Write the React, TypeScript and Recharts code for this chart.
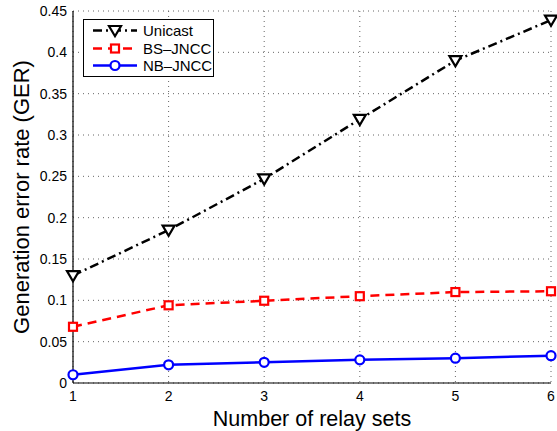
import React from "react";
import {
  LineChart,
  Line,
  XAxis,
  YAxis,
  CartesianGrid,
  Label,
} from "recharts";

/* ── Data ─────────────────────────────────────────────────── */
const relaySets = [1, 2, 3, 4, 5, 6];
const unicast = [0.13, 0.185, 0.247, 0.319, 0.39, 0.439];
const bsJncc = [0.068, 0.094, 0.0995, 0.105, 0.11, 0.111];
const nbJncc = [0.01, 0.022, 0.025, 0.028, 0.03, 0.033];
const yTicks = [0, 0.05, 0.1, 0.15, 0.2, 0.25, 0.3, 0.35, 0.4, 0.45];

const data = relaySets.map((n, i) => ({
  n,
  unicast: unicast[i],
  bs: bsJncc[i],
  nb: nbJncc[i],
}));

const FONT = "'Liberation Sans', Arial, Helvetica, sans-serif";

/* ── Markers ──────────────────────────────────────────────── */
// eslint-disable-next-line @typescript-eslint/no-explicit-any
function TriangleDot(props: any) {
  const { cx, cy } = props;
  if (cx == null || cy == null) return null;
  const s = 6;
  return (
    <path
      d={`M${cx - s},${cy - s * 0.75} L${cx + s},${cy - s * 0.75} L${cx},${cy + s * 0.95} Z`}
      fill="#fff"
      stroke="#000"
      strokeWidth={2.2}
    />
  );
}

// eslint-disable-next-line @typescript-eslint/no-explicit-any
function SquareDot(props: any) {
  const { cx, cy } = props;
  if (cx == null || cy == null) return null;
  return (
    <rect
      x={cx - 4}
      y={cy - 4}
      width={8}
      height={8}
      fill="#fff"
      stroke="#ff0000"
      strokeWidth={2.2}
    />
  );
}

// eslint-disable-next-line @typescript-eslint/no-explicit-any
function CircleDot(props: any) {
  const { cx, cy } = props;
  if (cx == null || cy == null) return null;
  return <circle cx={cx} cy={cy} r={4.5} fill="#fff" stroke="#0000ff" strokeWidth={2.2} />;
}

/* ── Legend box (overlay, MATLAB style) ───────────────────── */
const legendItems = [
  { name: "Unicast", color: "#000", dash: "9 4 2 4", Dot: TriangleDot },
  { name: "BS\u2013JNCC", color: "#ff0000", dash: "9 6", Dot: SquareDot },
  { name: "NB\u2013JNCC", color: "#0000ff", dash: undefined, Dot: CircleDot },
];

function LegendBox() {
  return (
    <div
      style={{
        position: "absolute",
        left: 83,
        top: 19,
        width: 131,
        height: 58,
        border: "1px solid #000",
        background: "#fff",
        boxSizing: "border-box",
        padding: "2px 0 0 0",
      }}
    >
      {legendItems.map(({ name, color, dash, Dot }) => (
        <div key={name} style={{ display: "flex", alignItems: "center", height: 17.5 }}>
          <svg width={56} height={17} style={{ flexShrink: 0 }}>
            <line
              x1={9}
              y1={8.5}
              x2={53}
              y2={8.5}
              stroke={color}
              strokeWidth={2.5}
              strokeDasharray={dash}
            />
            <Dot cx={31} cy={8.5} />
          </svg>
          <span
            style={{
              marginLeft: 3,
              color: "#000",
              fontFamily: FONT,
              fontSize: 15,
              lineHeight: "17px",
              whiteSpace: "nowrap",
            }}
          >
            {name}
          </span>
        </div>
      ))}
    </div>
  );
}

const fmt = (v: number) => String(+v.toFixed(2));

export default function App() {
  return (
    <div
      style={{
        position: "absolute",
        left: 0,
        top: 0,
        width: 557,
        height: 431,
        background: "#fff",
      }}
    >
      <LineChart
        width={557}
        height={431}
        data={data}
        margin={{ top: 11, right: 6, left: 23, bottom: 0 }}
      >
        <CartesianGrid stroke="#666" strokeDasharray="1 4" strokeWidth={1} />

        <XAxis
          dataKey="n"
          type="number"
          domain={[1, 6]}
          ticks={relaySets}
          height={48}
          stroke="#000"
          tickLine={false}
          tickSize={4}
          tickMargin={4}
          tick={{ fontSize: 14, fill: "#000", fontFamily: FONT }}
          axisLine={{ stroke: "#000", strokeWidth: 1.2 }}
        >
          <Label
            value="Number of relay sets"
            position="insideBottom"
            offset={5}
            style={{ fontSize: 21.5, fill: "#000", fontFamily: FONT }}
          />
        </XAxis>
        <XAxis
          xAxisId="top"
          dataKey="n"
          type="number"
          domain={[1, 6]}
          ticks={relaySets}
          orientation="top"
          mirror
          height={0}
          tick={false}
          tickSize={5}
          stroke="#000"
          axisLine={{ stroke: "#000", strokeWidth: 1.2 }}
        />

        <YAxis
          domain={[0, 0.45]}
          ticks={yTicks}
          width={50}
          interval={0}
          tickFormatter={fmt}
          tickLine={false}
          tickSize={4}
          tickMargin={2}
          tick={{ fontSize: 14, fill: "#000", fontFamily: FONT }}
          axisLine={{ stroke: "#000", strokeWidth: 1.2 }}
        >
          <Label
            value="Generation error rate (GER)"
            angle={-90}
            position="insideLeft"
            offset={-2}
            style={{ fontSize: 22, fill: "#000", fontFamily: FONT, textAnchor: "middle" }}
          />
        </YAxis>
        <YAxis
          yAxisId="right"
          domain={[0, 0.45]}
          ticks={yTicks}
          orientation="right"
          mirror
          width={0}
          tick={false}
          tickSize={5}
          stroke="#000"
          axisLine={{ stroke: "#000", strokeWidth: 1.2 }}
        />

        <Line
          dataKey="unicast"
          stroke="#000"
          strokeWidth={2.5}
          strokeDasharray="9 4 2 4"
          dot={<TriangleDot />}
          isAnimationActive={false}
        />
        <Line
          dataKey="bs"
          stroke="#ff0000"
          strokeWidth={2.5}
          strokeDasharray="9 6"
          dot={<SquareDot />}
          isAnimationActive={false}
        />
        <Line
          dataKey="nb"
          stroke="#0000ff"
          strokeWidth={2.5}
          dot={<CircleDot />}
          isAnimationActive={false}
        />
      </LineChart>
      <LegendBox />
    </div>
  );
}
